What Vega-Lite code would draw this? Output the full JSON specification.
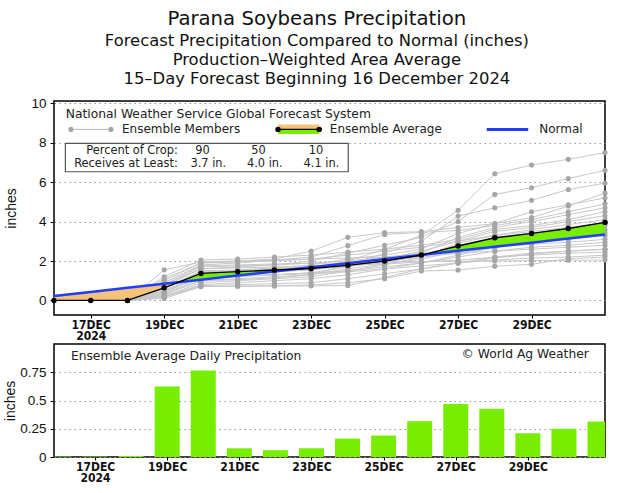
{
  "$schema": "https://vega.github.io/schema/vega-lite/v6.json",
  "background": "white",
  "padding": {"left": 2, "top": 8, "right": 28, "bottom": 5},
  "config": {"view": {"stroke": "black", "strokeWidth": 1.5}},
  "title": {
    "text": "Parana Soybeans Precipitation",
    "subtitle": ["Forecast Precipitation Compared to Normal (inches)", "Production–Weighted Area Average", "15–Day Forecast Beginning 16 December 2024"],
    "font": "DejaVu Sans", "fontSize": 19.7, "fontWeight": "normal", "color": "#111",
    "subtitleFont": "DejaVu Sans", "subtitleFontSize": 16.4, "subtitleColor": "#111",
    "subtitleLineHeight": 19, "subtitlePadding": 5, "anchor": "middle", "offset": 8, "dx": 10
  },
  "datasets": {
    "avg": [
      {"day": 16, "v": 0}, {"day": 17, "v": 0}, {"day": 18, "v": 0}, {"day": 19, "v": 0.64},
      {"day": 20, "v": 1.37}, {"day": 21, "v": 1.46}, {"day": 22, "v": 1.54}, {"day": 23, "v": 1.62},
      {"day": 24, "v": 1.78}, {"day": 25, "v": 2.0}, {"day": 26, "v": 2.3}, {"day": 27, "v": 2.76},
      {"day": 28, "v": 3.18}, {"day": 29, "v": 3.4}, {"day": 30, "v": 3.65}, {"day": 31, "v": 3.96}
    ],
    "normal": [
      {"day": 16, "v": 0.22}, {"day": 17, "v": 0.43}, {"day": 18, "v": 0.64}, {"day": 19, "v": 0.85},
      {"day": 20, "v": 1.05}, {"day": 21, "v": 1.26}, {"day": 22, "v": 1.47}, {"day": 23, "v": 1.68},
      {"day": 24, "v": 1.89}, {"day": 25, "v": 2.10}, {"day": 26, "v": 2.31}, {"day": 27, "v": 2.52},
      {"day": 28, "v": 2.72}, {"day": 29, "v": 2.93}, {"day": 30, "v": 3.14}, {"day": 31, "v": 3.35}
    ],
    "area": [
      {"day": 16, "v": 0, "n": 0.22, "s": "below", "g": 1},
      {"day": 17, "v": 0, "n": 0.43, "s": "below", "g": 1},
      {"day": 18, "v": 0, "n": 0.64, "s": "below", "g": 1},
      {"day": 19, "v": 0.64, "n": 0.85, "s": "below", "g": 1},
      {"day": 19.4, "v": 0.93, "n": 0.93, "s": "below", "g": 1},
      {"day": 19.4, "v": 0.93, "n": 0.93, "s": "above", "g": 2},
      {"day": 20, "v": 1.37, "n": 1.05, "s": "above", "g": 2},
      {"day": 21, "v": 1.46, "n": 1.26, "s": "above", "g": 2},
      {"day": 22, "v": 1.54, "n": 1.47, "s": "above", "g": 2},
      {"day": 22.54, "v": 1.58, "n": 1.58, "s": "above", "g": 2},
      {"day": 22.54, "v": 1.58, "n": 1.58, "s": "below", "g": 3},
      {"day": 23, "v": 1.62, "n": 1.68, "s": "below", "g": 3},
      {"day": 24, "v": 1.78, "n": 1.89, "s": "below", "g": 3},
      {"day": 25, "v": 2.0, "n": 2.10, "s": "below", "g": 3},
      {"day": 26, "v": 2.3, "n": 2.31, "s": "below", "g": 3},
      {"day": 26.04, "v": 2.32, "n": 2.32, "s": "below", "g": 3},
      {"day": 26.04, "v": 2.32, "n": 2.32, "s": "above", "g": 4},
      {"day": 27, "v": 2.76, "n": 2.52, "s": "above", "g": 4},
      {"day": 28, "v": 3.18, "n": 2.72, "s": "above", "g": 4},
      {"day": 29, "v": 3.4, "n": 2.93, "s": "above", "g": 4},
      {"day": 30, "v": 3.65, "n": 3.14, "s": "above", "g": 4},
      {"day": 31, "v": 3.96, "n": 3.35, "s": "above", "g": 4}
    ],
    "daily": [
      {"day": 16, "p": 0.004}, {"day": 17, "p": 0.004}, {"day": 18, "p": 0.01}, {"day": 19, "p": 0.625},
      {"day": 20, "p": 0.765}, {"day": 21, "p": 0.077}, {"day": 22, "p": 0.06}, {"day": 23, "p": 0.077},
      {"day": 24, "p": 0.163}, {"day": 25, "p": 0.19}, {"day": 26, "p": 0.317}, {"day": 27, "p": 0.47},
      {"day": 28, "p": 0.427}, {"day": 29, "p": 0.21}, {"day": 30, "p": 0.25}, {"day": 31, "p": 0.314}
    ],
    "members": [
      {"m":"A","day":18,"v":0},{"m":"A","day":19,"v":0.5},{"m":"A","day":20,"v":1.3},{"m":"A","day":21,"v":1.35},{"m":"A","day":22,"v":1.45},{"m":"A","day":23,"v":1.6},{"m":"A","day":24,"v":2.0},{"m":"A","day":25,"v":2.6},{"m":"A","day":26,"v":3.3},{"m":"A","day":27,"v":4.57},{"m":"A","day":28,"v":6.43},{"m":"A","day":29,"v":6.87},{"m":"A","day":30,"v":7.16},{"m":"A","day":31,"v":7.5},
      {"m":"B","day":18,"v":0},{"m":"B","day":19,"v":0.8},{"m":"B","day":20,"v":1.6},{"m":"B","day":21,"v":1.7},{"m":"B","day":22,"v":1.8},{"m":"B","day":23,"v":2.0},{"m":"B","day":24,"v":2.4},{"m":"B","day":25,"v":2.8},{"m":"B","day":26,"v":3.2},{"m":"B","day":27,"v":4.0},{"m":"B","day":28,"v":5.38},{"m":"B","day":29,"v":5.72},{"m":"B","day":30,"v":6.18},{"m":"B","day":31,"v":6.6},
      {"m":"C","day":18,"v":0},{"m":"C","day":19,"v":0.3},{"m":"C","day":20,"v":1.0},{"m":"C","day":21,"v":1.1},{"m":"C","day":22,"v":1.2},{"m":"C","day":23,"v":1.3},{"m":"C","day":24,"v":1.8},{"m":"C","day":25,"v":2.4},{"m":"C","day":26,"v":3.0},{"m":"C","day":27,"v":4.28},{"m":"C","day":28,"v":4.7},{"m":"C","day":29,"v":5.08},{"m":"C","day":30,"v":5.63},{"m":"C","day":31,"v":5.95},
      {"m":"D","day":18,"v":0},{"m":"D","day":19,"v":1.0},{"m":"D","day":20,"v":1.9},{"m":"D","day":21,"v":2.0},{"m":"D","day":22,"v":2.1},{"m":"D","day":23,"v":2.5},{"m":"D","day":24,"v":3.2},{"m":"D","day":25,"v":3.44},{"m":"D","day":26,"v":3.49},{"m":"D","day":27,"v":3.7},{"m":"D","day":28,"v":3.9},{"m":"D","day":29,"v":4.2},{"m":"D","day":30,"v":4.79},{"m":"D","day":31,"v":5.45},
      {"m":"E","day":18,"v":0},{"m":"E","day":19,"v":0.6},{"m":"E","day":20,"v":1.5},{"m":"E","day":21,"v":1.55},{"m":"E","day":22,"v":1.65},{"m":"E","day":23,"v":1.8},{"m":"E","day":24,"v":2.1},{"m":"E","day":25,"v":2.3},{"m":"E","day":26,"v":2.6},{"m":"E","day":27,"v":3.4},{"m":"E","day":28,"v":3.9},{"m":"E","day":29,"v":4.5},{"m":"E","day":30,"v":4.85},{"m":"E","day":31,"v":5.2},
      {"m":"F","day":18,"v":0},{"m":"F","day":19,"v":0.9},{"m":"F","day":20,"v":1.8},{"m":"F","day":21,"v":1.9},{"m":"F","day":22,"v":2.05},{"m":"F","day":23,"v":2.2},{"m":"F","day":24,"v":2.78},{"m":"F","day":25,"v":3.35},{"m":"F","day":26,"v":3.45},{"m":"F","day":27,"v":3.55},{"m":"F","day":28,"v":3.8},{"m":"F","day":29,"v":4.1},{"m":"F","day":30,"v":4.5},{"m":"F","day":31,"v":4.9},
      {"m":"G","day":18,"v":0},{"m":"G","day":19,"v":0.4},{"m":"G","day":20,"v":1.2},{"m":"G","day":21,"v":1.25},{"m":"G","day":22,"v":1.3},{"m":"G","day":23,"v":1.4},{"m":"G","day":24,"v":1.7},{"m":"G","day":25,"v":2.0},{"m":"G","day":26,"v":2.4},{"m":"G","day":27,"v":3.2},{"m":"G","day":28,"v":3.7},{"m":"G","day":29,"v":4.0},{"m":"G","day":30,"v":4.35},{"m":"G","day":31,"v":4.7},
      {"m":"H","day":18,"v":0},{"m":"H","day":19,"v":1.2},{"m":"H","day":20,"v":2.05},{"m":"H","day":21,"v":2.1},{"m":"H","day":22,"v":2.2},{"m":"H","day":23,"v":2.3},{"m":"H","day":24,"v":2.45},{"m":"H","day":25,"v":2.6},{"m":"H","day":26,"v":2.8},{"m":"H","day":27,"v":3.1},{"m":"H","day":28,"v":3.6},{"m":"H","day":29,"v":3.8},{"m":"H","day":30,"v":4.1},{"m":"H","day":31,"v":4.5},
      {"m":"I","day":18,"v":0},{"m":"I","day":19,"v":0.7},{"m":"I","day":20,"v":1.4},{"m":"I","day":21,"v":1.5},{"m":"I","day":22,"v":1.6},{"m":"I","day":23,"v":1.7},{"m":"I","day":24,"v":1.9},{"m":"I","day":25,"v":2.1},{"m":"I","day":26,"v":2.5},{"m":"I","day":27,"v":3.0},{"m":"I","day":28,"v":3.5},{"m":"I","day":29,"v":3.7},{"m":"I","day":30,"v":4.0},{"m":"I","day":31,"v":4.3},
      {"m":"J","day":18,"v":0},{"m":"J","day":19,"v":0.2},{"m":"J","day":20,"v":0.9},{"m":"J","day":21,"v":1.0},{"m":"J","day":22,"v":1.1},{"m":"J","day":23,"v":1.2},{"m":"J","day":24,"v":1.5},{"m":"J","day":25,"v":1.8},{"m":"J","day":26,"v":2.2},{"m":"J","day":27,"v":2.9},{"m":"J","day":28,"v":3.3},{"m":"J","day":29,"v":3.6},{"m":"J","day":30,"v":3.85},{"m":"J","day":31,"v":4.1},
      {"m":"K","day":18,"v":0},{"m":"K","day":19,"v":1.1},{"m":"K","day":20,"v":1.9},{"m":"K","day":21,"v":1.95},{"m":"K","day":22,"v":2.0},{"m":"K","day":23,"v":2.1},{"m":"K","day":24,"v":2.3},{"m":"K","day":25,"v":2.5},{"m":"K","day":26,"v":2.7},{"m":"K","day":27,"v":3.0},{"m":"K","day":28,"v":3.3},{"m":"K","day":29,"v":3.5},{"m":"K","day":30,"v":3.7},{"m":"K","day":31,"v":3.95},
      {"m":"L","day":18,"v":0},{"m":"L","day":19,"v":0.5},{"m":"L","day":20,"v":1.3},{"m":"L","day":21,"v":1.4},{"m":"L","day":22,"v":1.45},{"m":"L","day":23,"v":1.55},{"m":"L","day":24,"v":1.75},{"m":"L","day":25,"v":1.9},{"m":"L","day":26,"v":2.3},{"m":"L","day":27,"v":2.8},{"m":"L","day":28,"v":3.15},{"m":"L","day":29,"v":3.4},{"m":"L","day":30,"v":3.6},{"m":"L","day":31,"v":3.8},
      {"m":"M","day":18,"v":0},{"m":"M","day":19,"v":0.3},{"m":"M","day":20,"v":1.0},{"m":"M","day":21,"v":1.05},{"m":"M","day":22,"v":1.15},{"m":"M","day":23,"v":1.3},{"m":"M","day":24,"v":1.6},{"m":"M","day":25,"v":1.85},{"m":"M","day":26,"v":2.1},{"m":"M","day":27,"v":2.5},{"m":"M","day":28,"v":3.0},{"m":"M","day":29,"v":3.2},{"m":"M","day":30,"v":3.4},{"m":"M","day":31,"v":3.6},
      {"m":"N","day":18,"v":0},{"m":"N","day":19,"v":0.8},{"m":"N","day":20,"v":1.7},{"m":"N","day":21,"v":1.75},{"m":"N","day":22,"v":1.8},{"m":"N","day":23,"v":1.9},{"m":"N","day":24,"v":2.0},{"m":"N","day":25,"v":2.2},{"m":"N","day":26,"v":2.4},{"m":"N","day":27,"v":2.6},{"m":"N","day":28,"v":2.9},{"m":"N","day":29,"v":3.1},{"m":"N","day":30,"v":3.3},{"m":"N","day":31,"v":3.45},
      {"m":"O","day":18,"v":0},{"m":"O","day":19,"v":0.15},{"m":"O","day":20,"v":0.8},{"m":"O","day":21,"v":0.9},{"m":"O","day":22,"v":1.0},{"m":"O","day":23,"v":1.1},{"m":"O","day":24,"v":1.3},{"m":"O","day":25,"v":1.6},{"m":"O","day":26,"v":1.9},{"m":"O","day":27,"v":2.3},{"m":"O","day":28,"v":2.7},{"m":"O","day":29,"v":2.95},{"m":"O","day":30,"v":3.1},{"m":"O","day":31,"v":3.3},
      {"m":"P","day":18,"v":0},{"m":"P","day":19,"v":0.6},{"m":"P","day":20,"v":1.45},{"m":"P","day":21,"v":1.5},{"m":"P","day":22,"v":1.6},{"m":"P","day":23,"v":1.7},{"m":"P","day":24,"v":1.85},{"m":"P","day":25,"v":2.0},{"m":"P","day":26,"v":2.2},{"m":"P","day":27,"v":2.4},{"m":"P","day":28,"v":2.7},{"m":"P","day":29,"v":2.85},{"m":"P","day":30,"v":2.95},{"m":"P","day":31,"v":3.1},
      {"m":"Q","day":18,"v":0},{"m":"Q","day":19,"v":0.35},{"m":"Q","day":20,"v":1.1},{"m":"Q","day":21,"v":1.2},{"m":"Q","day":22,"v":1.3},{"m":"Q","day":23,"v":1.4},{"m":"Q","day":24,"v":1.5},{"m":"Q","day":25,"v":1.7},{"m":"Q","day":26,"v":1.9},{"m":"Q","day":27,"v":2.2},{"m":"Q","day":28,"v":2.5},{"m":"Q","day":29,"v":2.7},{"m":"Q","day":30,"v":2.8},{"m":"Q","day":31,"v":2.95},
      {"m":"R","day":18,"v":0},{"m":"R","day":19,"v":1.55},{"m":"R","day":20,"v":1.95},{"m":"R","day":21,"v":2.0},{"m":"R","day":22,"v":2.05},{"m":"R","day":23,"v":2.1},{"m":"R","day":24,"v":2.15},{"m":"R","day":25,"v":2.2},{"m":"R","day":26,"v":2.3},{"m":"R","day":27,"v":2.4},{"m":"R","day":28,"v":2.5},{"m":"R","day":29,"v":2.6},{"m":"R","day":30,"v":2.7},{"m":"R","day":31,"v":2.8},
      {"m":"S","day":18,"v":0},{"m":"S","day":19,"v":0.25},{"m":"S","day":20,"v":0.75},{"m":"S","day":21,"v":0.8},{"m":"S","day":22,"v":0.85},{"m":"S","day":23,"v":0.9},{"m":"S","day":24,"v":1.1},{"m":"S","day":25,"v":1.35},{"m":"S","day":26,"v":1.6},{"m":"S","day":27,"v":1.9},{"m":"S","day":28,"v":2.2},{"m":"S","day":29,"v":2.4},{"m":"S","day":30,"v":2.5},{"m":"S","day":31,"v":2.6},
      {"m":"T","day":18,"v":0},{"m":"T","day":19,"v":0.7},{"m":"T","day":20,"v":1.6},{"m":"T","day":21,"v":1.65},{"m":"T","day":22,"v":1.7},{"m":"T","day":23,"v":1.75},{"m":"T","day":24,"v":1.8},{"m":"T","day":25,"v":1.85},{"m":"T","day":26,"v":1.95},{"m":"T","day":27,"v":2.05},{"m":"T","day":28,"v":2.2},{"m":"T","day":29,"v":2.3},{"m":"T","day":30,"v":2.4},{"m":"T","day":31,"v":2.45},
      {"m":"U","day":18,"v":0},{"m":"U","day":19,"v":0.45},{"m":"U","day":20,"v":1.2},{"m":"U","day":21,"v":1.25},{"m":"U","day":22,"v":1.3},{"m":"U","day":23,"v":1.35},{"m":"U","day":24,"v":1.45},{"m":"U","day":25,"v":1.6},{"m":"U","day":26,"v":1.75},{"m":"U","day":27,"v":1.9},{"m":"U","day":28,"v":2.05},{"m":"U","day":29,"v":2.15},{"m":"U","day":30,"v":2.2},{"m":"U","day":31,"v":2.3},
      {"m":"V","day":18,"v":0},{"m":"V","day":19,"v":0.1},{"m":"V","day":20,"v":0.7},{"m":"V","day":21,"v":0.72},{"m":"V","day":22,"v":0.75},{"m":"V","day":23,"v":0.78},{"m":"V","day":24,"v":0.9},{"m":"V","day":25,"v":1.1},{"m":"V","day":26,"v":1.49},{"m":"V","day":27,"v":1.54},{"m":"V","day":28,"v":1.74},{"m":"V","day":29,"v":1.83},{"m":"V","day":30,"v":2.12},{"m":"V","day":31,"v":2.2},
      {"m":"W","day":18,"v":0},{"m":"W","day":19,"v":0.9},{"m":"W","day":20,"v":1.75},{"m":"W","day":21,"v":1.8},{"m":"W","day":22,"v":1.85},{"m":"W","day":23,"v":1.88},{"m":"W","day":24,"v":1.9},{"m":"W","day":25,"v":1.95},{"m":"W","day":26,"v":1.97},{"m":"W","day":27,"v":1.98},{"m":"W","day":28,"v":2.0},{"m":"W","day":29,"v":2.02},{"m":"W","day":30,"v":2.04},{"m":"W","day":31,"v":2.05},
      {"m":"X","day":18,"v":0},{"m":"X","day":19,"v":0.2},{"m":"X","day":20,"v":0.7},{"m":"X","day":21,"v":0.72},{"m":"X","day":22,"v":0.73},{"m":"X","day":23,"v":0.74},{"m":"X","day":24,"v":0.76},{"m":"X","day":25,"v":1.16},{"m":"X","day":26,"v":1.6},{"m":"X","day":27,"v":1.9},{"m":"X","day":28,"v":2.15},{"m":"X","day":29,"v":2.35},{"m":"X","day":30,"v":2.5},{"m":"X","day":31,"v":2.6}
    ]
  },
  "spacing": 1,
  "vconcat": [
    {
      "width": 551,
      "height": 214,
      "layer": [
        {"data": {"name": "members"}, "mark": {"type": "line", "color": "#c8c8c8", "strokeWidth": 1},
          "encoding": {
            "x": {"field": "day", "type": "quantitative", "scale": {"domain": [16, 31], "nice": false, "zero": false},
              "axis": {"values": [17, 19, 21, 23, 25, 27, 29], "tickCount": 20, "labelExpr": "datum.value == 17 ? ['17DEC', '2024'] : datum.value + 'DEC'", "title": null, "grid": false, "domain": false, "tickSize": 3, "tickColor": "black", "labelFont": "Liberation Sans Narrow, DejaVu Sans Condensed, sans-serif", "labelFontSize": 12, "labelFontWeight": "bold", "labelColor": "#111", "labelPadding": 1.5, "labelLineHeight": 10.5, "labelOverlap": false, "labelFlush": false}},
            "y": {"field": "v", "type": "quantitative", "scale": {"domain": [-0.74, 10.12], "nice": false, "zero": false},
              "axis": {"values": [0, 2, 4, 6, 8, 10], "tickCount": 20, "format": "d", "title": "inches", "grid": true, "gridDash": [1.5, 3.5], "gridColor": "#999", "domain": false, "tickSize": 4, "tickColor": "black", "labelFont": "Liberation Sans", "labelFontSize": 13.5, "labelColor": "#111", "labelPadding": 4, "labelOverlap": false, "titleFont": "Liberation Sans", "titleFontSize": 14, "titleFontWeight": "normal", "titleColor": "#111", "titlePadding": 12}},
            "detail": {"field": "m"}}},
        {"data": {"name": "members"}, "mark": {"type": "point", "filled": true, "color": "#a6a6a6", "size": 26, "opacity": 1},
          "encoding": {"x": {"field": "day", "type": "quantitative", "scale": {"domain": [16, 31], "nice": false, "zero": false}}, "y": {"field": "v", "type": "quantitative", "scale": {"domain": [-0.74, 10.12], "nice": false, "zero": false}}}},
        {"data": {"name": "area"}, "mark": {"type": "area", "opacity": 1},
          "encoding": {
            "x": {"field": "day", "type": "quantitative", "scale": {"domain": [16, 31], "nice": false, "zero": false}},
            "y": {"field": "v", "type": "quantitative", "stack": null, "scale": {"domain": [-0.74, 10.12], "nice": false, "zero": false}},
            "y2": {"field": "n"},
            "color": {"field": "s", "type": "nominal", "scale": {"domain": ["below", "above"], "range": ["#f5c27a", "#77ee00"]}, "legend": null},
            "detail": {"field": "g"}}},
        {"data": {"name": "normal"}, "mark": {"type": "line", "color": "#1f3cff", "strokeWidth": 2.5},
          "encoding": {"x": {"field": "day", "type": "quantitative", "scale": {"domain": [16, 31], "nice": false, "zero": false}}, "y": {"field": "v", "type": "quantitative", "scale": {"domain": [-0.74, 10.12], "nice": false, "zero": false}}}},
        {"data": {"name": "avg"}, "mark": {"type": "line", "color": "black", "strokeWidth": 1.4},
          "encoding": {"x": {"field": "day", "type": "quantitative", "scale": {"domain": [16, 31], "nice": false, "zero": false}}, "y": {"field": "v", "type": "quantitative", "scale": {"domain": [-0.74, 10.12], "nice": false, "zero": false}}}},
        {"data": {"name": "avg"}, "mark": {"type": "point", "filled": true, "color": "black", "size": 30, "opacity": 1},
          "encoding": {"x": {"field": "day", "type": "quantitative", "scale": {"domain": [16, 31], "nice": false, "zero": false}}, "y": {"field": "v", "type": "quantitative", "scale": {"domain": [-0.74, 10.12], "nice": false, "zero": false}}}},
        {"data": {"values": [{}]}, "mark": {"type": "rect", "fill": "white", "stroke": "#555", "strokeWidth": 1.2}, "encoding": {"x": {"datum": 16.31}, "x2": {"datum": 24.01}, "y": {"datum": 7.97}, "y2": {"datum": 6.53}}},
        {"data": {"values": [{}]}, "mark": {"type": "text", "text": "National Weather Service Global Forecast System", "align": "left", "baseline": "middle", "font": "DejaVu Sans", "fontSize": 12.3, "color": "#222"}, "encoding": {"x": {"datum": 16.32}, "y": {"datum": 9.48}}},
        {"data": {"values": [{}]}, "mark": {"type": "rule", "color": "#b8b8b8", "strokeWidth": 1}, "encoding": {"x": {"datum": 16.46}, "x2": {"datum": 17.55}, "y": {"datum": 8.68}}},
        {"data": {"values": [{}]}, "mark": {"type": "point", "filled": true, "color": "#a6a6a6", "size": 26, "opacity": 1}, "encoding": {"x": {"datum": 16.46}, "y": {"datum": 8.68}}},
        {"data": {"values": [{}]}, "mark": {"type": "point", "filled": true, "color": "#a6a6a6", "size": 26, "opacity": 1}, "encoding": {"x": {"datum": 17.55}, "y": {"datum": 8.68}}},
        {"data": {"values": [{}]}, "mark": {"type": "text", "text": "Ensemble Members", "align": "left", "baseline": "middle", "font": "DejaVu Sans", "fontSize": 12, "color": "#222"}, "encoding": {"x": {"datum": 17.85}, "y": {"datum": 8.68}}},
        {"data": {"values": [{}]}, "mark": {"type": "rect", "fill": "#f5c27a"}, "encoding": {"x": {"datum": 22.1}, "x2": {"datum": 23.22}, "y": {"datum": 8.93}, "y2": {"datum": 8.7}}},
        {"data": {"values": [{}]}, "mark": {"type": "rect", "fill": "#77ee00"}, "encoding": {"x": {"datum": 22.1}, "x2": {"datum": 23.22}, "y": {"datum": 8.66}, "y2": {"datum": 8.45}}},
        {"data": {"values": [{}]}, "mark": {"type": "rule", "color": "black", "strokeWidth": 1.3}, "encoding": {"x": {"datum": 22.1}, "x2": {"datum": 23.22}, "y": {"datum": 8.68}}},
        {"data": {"values": [{}]}, "mark": {"type": "point", "filled": true, "color": "black", "size": 30, "opacity": 1}, "encoding": {"x": {"datum": 22.1}, "y": {"datum": 8.68}}},
        {"data": {"values": [{}]}, "mark": {"type": "point", "filled": true, "color": "black", "size": 30, "opacity": 1}, "encoding": {"x": {"datum": 23.22}, "y": {"datum": 8.68}}},
        {"data": {"values": [{}]}, "mark": {"type": "text", "text": "Ensemble Average", "align": "left", "baseline": "middle", "font": "DejaVu Sans", "fontSize": 12, "color": "#222"}, "encoding": {"x": {"datum": 23.51}, "y": {"datum": 8.68}}},
        {"data": {"values": [{}]}, "mark": {"type": "rule", "color": "#1f3cff", "strokeWidth": 3}, "encoding": {"x": {"datum": 27.78}, "x2": {"datum": 28.91}, "y": {"datum": 8.68}}},
        {"data": {"values": [{}]}, "mark": {"type": "text", "text": "Normal", "align": "left", "baseline": "middle", "font": "DejaVu Sans", "fontSize": 12, "color": "#222"}, "encoding": {"x": {"datum": 29.21}, "y": {"datum": 8.68}}},
        {"data": {"values": [{}]}, "mark": {"type": "text", "text": "Percent of Crop:", "align": "right", "baseline": "middle", "font": "DejaVu Sans", "fontSize": 11.4, "color": "#222"}, "encoding": {"x": {"datum": 19.37}, "y": {"datum": 7.57}}},
        {"data": {"values": [{}]}, "mark": {"type": "text", "text": "Receives at Least:", "align": "right", "baseline": "middle", "font": "DejaVu Sans", "fontSize": 11.4, "color": "#222"}, "encoding": {"x": {"datum": 19.37}, "y": {"datum": 6.93}}},
        {"data": {"values": [{}]}, "mark": {"type": "text", "text": "90", "align": "center", "baseline": "middle", "font": "DejaVu Sans", "fontSize": 11.4, "color": "#222"}, "encoding": {"x": {"datum": 20.04}, "y": {"datum": 7.57}}},
        {"data": {"values": [{}]}, "mark": {"type": "text", "text": "50", "align": "center", "baseline": "middle", "font": "DejaVu Sans", "fontSize": 11.4, "color": "#222"}, "encoding": {"x": {"datum": 21.57}, "y": {"datum": 7.57}}},
        {"data": {"values": [{}]}, "mark": {"type": "text", "text": "10", "align": "center", "baseline": "middle", "font": "DejaVu Sans", "fontSize": 11.4, "color": "#222"}, "encoding": {"x": {"datum": 23.13}, "y": {"datum": 7.57}}},
        {"data": {"values": [{}]}, "mark": {"type": "text", "text": "3.7 in.", "align": "center", "baseline": "middle", "font": "DejaVu Sans", "fontSize": 11.4, "color": "#222"}, "encoding": {"x": {"datum": 20.2}, "y": {"datum": 6.93}}},
        {"data": {"values": [{}]}, "mark": {"type": "text", "text": "4.0 in.", "align": "center", "baseline": "middle", "font": "DejaVu Sans", "fontSize": 11.4, "color": "#222"}, "encoding": {"x": {"datum": 21.74}, "y": {"datum": 6.93}}},
        {"data": {"values": [{}]}, "mark": {"type": "text", "text": "4.1 in.", "align": "center", "baseline": "middle", "font": "DejaVu Sans", "fontSize": 11.4, "color": "#222"}, "encoding": {"x": {"datum": 23.28}, "y": {"datum": 6.93}}}
      ]
    },
    {
      "width": 551,
      "height": 113,
      "layer": [
        {"data": {"name": "daily"}, "mark": {"type": "bar", "color": "#77ee00", "size": 25, "clip": true},
          "encoding": {
            "x": {"field": "day", "type": "quantitative", "scale": {"domain": [16, 31], "nice": false, "zero": false},
              "axis": {"values": [17, 19, 21, 23, 25, 27, 29], "tickCount": 20, "labelExpr": "datum.value == 17 ? ['17DEC', '2024'] : datum.value + 'DEC'", "title": null, "grid": false, "domain": false, "tickSize": 3, "tickColor": "black", "labelFont": "Liberation Sans Narrow, DejaVu Sans Condensed, sans-serif", "labelFontSize": 12, "labelFontWeight": "bold", "labelColor": "#111", "labelPadding": 1.5, "labelLineHeight": 10.5, "labelOverlap": false, "labelFlush": false}},
            "y": {"field": "p", "type": "quantitative", "scale": {"domain": [0, 1], "nice": false, "zero": false},
              "axis": {"values": [0, 0.25, 0.5, 0.75], "tickCount": 20, "labelExpr": "datum.value == 0 ? '0' : datum.value == 0.5 ? '0.5' : datum.value == 0.25 ? '0.25' : '0.75'", "title": "inches", "grid": true, "gridDash": [1.5, 3.5], "gridColor": "#999", "domain": false, "tickSize": 4, "tickColor": "black", "labelFont": "Liberation Sans", "labelFontSize": 13.5, "labelColor": "#111", "labelPadding": 4, "labelOverlap": false, "titleFont": "Liberation Sans", "titleFontSize": 14, "titleFontWeight": "normal", "titleColor": "#111", "titlePadding": 2}}}},
        {"data": {"values": [{}]}, "mark": {"type": "text", "text": "Ensemble Average Daily Precipitation", "align": "left", "baseline": "middle", "font": "DejaVu Sans", "fontSize": 12.3, "color": "#222"}, "encoding": {"x": {"datum": 16.33}, "y": {"datum": 0.894}}},
        {"data": {"values": [{}]}, "mark": {"type": "text", "text": "© World Ag Weather", "align": "right", "baseline": "middle", "font": "DejaVu Sans", "fontSize": 12.3, "color": "#222"}, "encoding": {"x": {"datum": 30.69}, "y": {"datum": 0.91}}}
      ]
    }
  ]
}
